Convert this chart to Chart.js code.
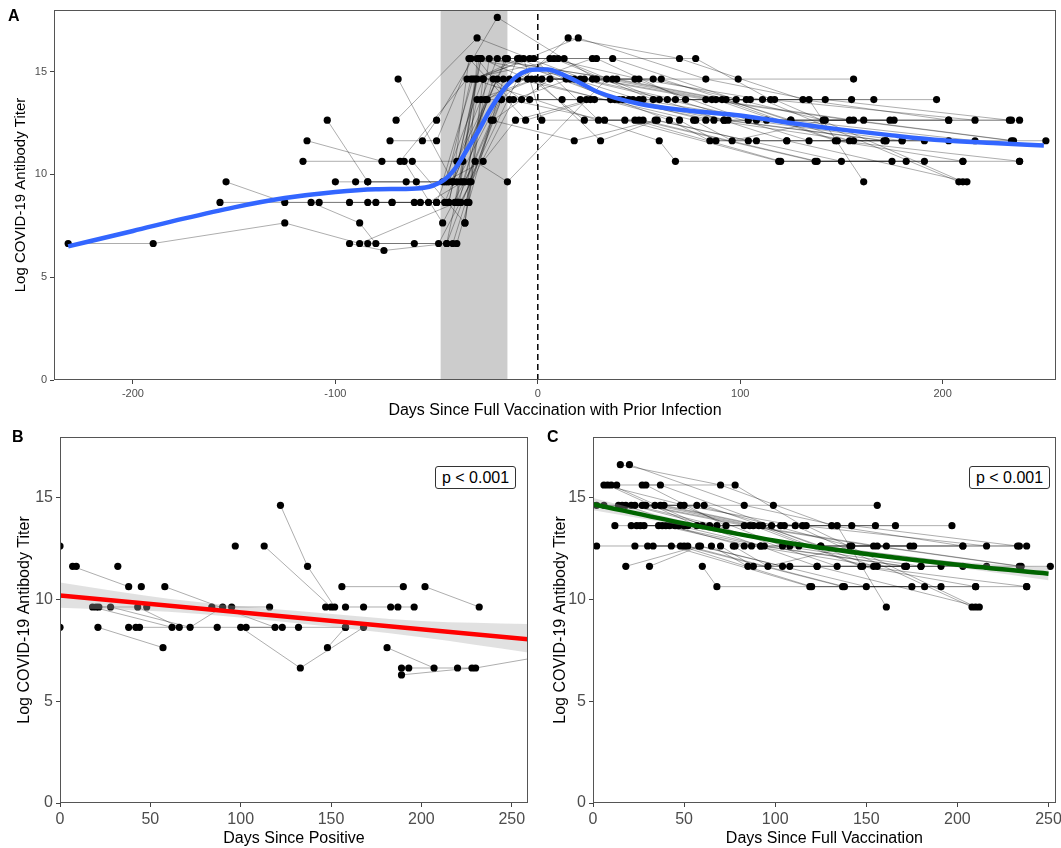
<!DOCTYPE html>
<html>
<head>
<meta charset="utf-8">
<script src="https://cdn.jsdelivr.net/npm/chart.js@4.4.1/dist/chart.umd.min.js"></script>
<style>
  body { margin: 0; background: #fff; width: 1061px; height: 848px; position: relative; overflow: hidden;
         font-family: "Liberation Sans", Arial, sans-serif; }
  canvas { position: absolute; }
  .tag { position: absolute; font-weight: bold; font-size: 16px; color: #000; }
  .pbox { position: absolute; border: 1px solid #333; border-radius: 3px; font-size: 16px; width: 79px;
          height: 21px; line-height: 21px; text-align: center; background: #fff; color: #000; }
</style>
</head>
<body>
<canvas id="chartA" width="1061" height="420" style="left:0;top:0"></canvas>
<canvas id="chartB" width="535" height="428" style="left:0;top:420px"></canvas>
<canvas id="chartC" width="530" height="428" style="left:535px;top:420px"></canvas>
<div class="tag" style="left:8px;top:7px">A</div>
<div class="tag" style="left:12px;top:428px">B</div>
<div class="tag" style="left:547px;top:428px">C</div>
<div class="pbox" style="left:435px;top:466px">p &lt; 0.001</div>
<div class="pbox" style="left:969px;top:466px">p &lt; 0.001</div>
<script>
// ticks
let titerTicks = [0, 5, 10, 15];
let daysTicksA = [-200, -100, 0, 100, 200];
let daysTicksBC = [0, 50, 100, 150, 200, 250];

// shaded window between doses (days before full vaccination)
let doseWindowA = [-48, -15];
let vaxDay = 0;

// per subject, before full vaccination (panel A only)
let preTracks = [
  [[-232,6.64],[-190,6.64],[-125,7.64],[-88,6.64],[-40,8.64],[-18,13.64]],
  [[-154,9.64],[-125,8.64],[-80,8.64],[-44,8.64],[-30,14.64]],
  [[-157,8.64],[-108,8.64],[-72,8.64],[-46,8.64],[-25,13.64]],
  [[-104,12.64],[-84,9.64],[-44,9.64],[-20,15.64]],
  [[-114,11.64],[-77,10.64],[-40,10.64],[-15,15.64]],
  [[-116,10.64],[-68,10.64],[-35,14.64]],
  [[-112,8.64],[-88,7.64],[-80,6.64],[-45,6.64],[-30,13.64]],
  [[-100,9.64],[-90,9.64],[-60,9.64],[-36,9.64],[-10,15.64]],
  [[-93,8.64],[-72,8.64],[-50,8.64],[-27,14.64]],
  [[-93,6.64],[-76,6.3],[-45,6.64],[-22,12.64]],
  [[-84,9.64],[-65,9.64],[-40,9.64],[-14,14.64]],
  [[-84,8.64],[-58,8.64],[-38,8.64],[-12,13.64]],
  [[-84,6.64],[-61,6.64],[-40,6.64],[-17,14.64]],
  [[-73,11.64],[-50,11.64],[-33,15.64]],
  [[-70,12.64],[-30,16.64],[-4,15.64]],
  [[-69,14.64],[-42,9.64],[-20,14.64]],
  [[-57,11.64],[-50,12.64],[-20,17.64]],
  [[-66,10.64],[-47,7.64],[-31,10.64],[-15,9.64]],
  [[-62,10.64],[-36,7.64],[-24,15.64]],
  [[-61,8.64],[-41,8.64],[-28,15.64]],
  [[-54,8.64],[-37,9.64],[-22,14.64],[-8,13.64]],
  [[-50,8.64],[-34,8.64],[-28,13.64],[-4,13.64]],
  [[-49,6.64],[-33,9.64],[-18,13.64]],
  [[-46,9.64],[-27,10.64],[-11,12.64]],
  [[-42,9.64],[-34,15.64],[-6,12.64]],
  [[-40,8.64],[-31,14.64],[-9,15.64]],
  [[-38,9.64],[-29,15.64],[-7,15.64]],
  [[-36,7.64],[-27,14.64],[-3,14.64]],
  [[-45,9.64],[-33,14.64],[-2,15.64]],
  [[-35,8.64],[-30,15.64],[-14,13.64]],
  [[-42,6.64],[-23,12.64]],
  [[-39,8.64],[-26,13.64],[-1,14.64]],
  [[-47,9.64],[-32,14.64]],
  [[-37,10.64],[-16,15.64]],
  [[-44,8.64],[-28,15.64],[-5,14.64]],
  [[-34,9.64],[-10,14.64]]
];

// same subjects, after full vaccination (panel C, and right half of panel A)
let postTracks = [
  [[15,16.64],[70,15.64],[131,13.64],[203,12.64]],
  [[20,16.64],[83,14.64],[134,13.64],[161,9.64]],
  [[6,15.64],[50,14.64],[111,13.64],[208,9.64]],
  [[8,15.64],[57,13.64],[117,13.64],[210,9.64]],
  [[10,15.64],[60,13.64],[123,11.64],[212,9.64]],
  [[13,15.64],[37,15.64],[98,13.64],[197,13.64]],
  [[27,15.64],[78,15.64],[115,13.64],[216,12.64]],
  [[29,15.64],[73,13.64],[142,13.64],[233,12.64]],
  [[2,14.64],[99,14.64],[156,14.64]],
  [[6,14.64],[48,14.64],[104,12.64],[180,11.64]],
  [[14,14.64],[61,14.64],[125,12.64],[234,12.64]],
  [[16,14.64],[57,14.64],[141,12.64],[238,12.64]],
  [[18,14.64],[50,13.64],[113,12.64],[174,12.64]],
  [[21,14.64],[64,13.64],[108,12.64],[176,12.64]],
  [[23,14.64],[68,13.64],[134,11.64],[203,11.64]],
  [[27,14.64],[83,13.64],[154,12.64],[234,11.64]],
  [[29,14.64],[86,13.64],[156,12.64],[235,11.64]],
  [[34,14.64],[88,13.64],[147,11.64],[210,10.64]],
  [[37,14.64],[91,13.64],[148,11.64],[238,10.64]],
  [[39,14.64],[93,13.64],[154,11.64],[251,11.64]],
  [[12,13.64],[45,13.64],[105,13.64],[155,13.64]],
  [[21,13.64],[52,13.64],[103,13.64],[166,13.64]],
  [[24,13.64],[40,13.64],[92,12.64],[171,11.64]],
  [[26,13.64],[47,13.64],[94,12.64],[172,11.64]],
  [[28,13.64],[38,13.64],[87,12.64],[156,11.64]],
  [[36,13.64],[42,13.64],[83,12.64],[161,12.64]],
  [[2,12.64],[43,12.64],[119,10.64],[191,10.64]],
  [[23,12.64],[48,12.64],[120,10.64],[182,10.64]],
  [[30,12.64],[50,12.64],[137,10.64],[210,10.64]],
  [[33,12.64],[52,12.64],[138,10.64],[175,10.64]],
  [[18,11.64],[58,12.64],[150,10.64]],
  [[31,11.64],[59,12.64],[104,11.64],[191,11.64]],
  [[60,11.64],[68,10.64],[238,10.64]],
  [[65,12.64],[85,11.64],[108,11.64],[172,11.64]],
  [[70,12.64],[88,11.64],[123,11.64],[180,11.64]],
  [[77,12.64],[96,11.64],[142,12.64],[203,12.64]],
  [[78,12.64],[92,12.64],[125,12.64],[216,11.64]]
];

// panel B subjects, days since positive
let tracksB = [
  [[0,12.64]],
  [[0,8.64]],
  [[7,11.64],[38,10.64]],
  [[9,11.64]],
  [[18,9.64],[62,8.64]],
  [[20,9.64],[43,9.64],[66,8.64]],
  [[21.5,9.64],[28,9.64],[72,8.64],[90,9.64]],
  [[21,8.64],[57,7.64]],
  [[32,11.64]],
  [[38,8.64],[42,8.64],[87,8.64],[132,8.64],[158,8.64]],
  [[44,8.64]],
  [[45,10.64]],
  [[48,9.64]],
  [[58,10.64],[119,8.64]],
  [[84,9.64],[95,9.64],[116,9.64]],
  [[97,12.64]],
  [[100,8.64],[133,6.64],[168,8.64]],
  [[103,8.64],[123,8.64]],
  [[113,12.64],[150,9.64]],
  [[122,14.64],[137,11.64],[152,9.64]],
  [[147,9.64]],
  [[148,7.64],[158,8.64]],
  [[156,10.64],[190,10.64]],
  [[158,9.64],[168,9.64],[183,9.64],[187,9.64],[196,9.64]],
  [[181,7.64],[207,6.64]],
  [[189,6.64],[220,6.64],[230,6.64],[295,7.64]],
  [[189,6.3],[228,6.64]],
  [[193,6.64]],
  [[202,10.64],[232,9.64]]
];

// smooth (loess) curve, panel A
let loessDaysA = [-232,-200,-175,-150,-125,-100,-80,-60,-52,-46,-40,-35,-30,-25,-20,-15,-10,-5,0,5,10,20,30,50,75,100,125,150,175,200,225,250];
let loessTiterA = [6.5,7.25,7.85,8.4,8.85,9.15,9.28,9.32,9.45,9.75,10.4,11.2,12.0,12.9,13.7,14.35,14.8,15.05,15.1,15.1,14.95,14.5,14.0,13.44,13.1,12.87,12.5,12.18,11.9,11.66,11.53,11.41];

// linear fit, panel B
let fitDaysB = [0, 259];
let fitTiterB = [10.2, 8.05];
let ciDaysB = [0, 60, 130, 200, 259];
let ciUpperB = [10.85, 10.05, 9.45, 8.95, 8.8];
let ciLowerB = [9.6, 9.4, 8.85, 8.15, 7.4];

// fitted curve, panel C
let fitDaysC = [0, 50, 100, 150, 200, 250];
let fitTiterC = [14.7, 13.75, 12.9, 12.25, 11.72, 11.28];
let ciUpperC = [15.0, 13.87, 12.98, 12.33, 11.86, 11.6];
let ciLowerC = [14.4, 13.63, 12.82, 12.17, 11.58, 10.95];

const FONT = '"Liberation Sans", Arial, sans-serif';
const tickGrey = '#4d4d4d';

function toXY(xs, ys) {
  return xs.map((x, i) => ({ x: x, y: ys[i] }));
}

function subjectSets(tracks) {
  return tracks.map(t => ({
    data: t.map(p => ({ x: p[0], y: p[1] })),
    borderColor: 'rgba(0,0,0,0.32)',
    borderWidth: 1,
    pointRadius: 3.6,
    pointBackgroundColor: '#000',
    pointBorderWidth: 0,
    fill: false,
    tension: 0,
    order: 3
  }));
}

function curveSet(xs, ys, color) {
  return {
    data: toXY(xs, ys),
    borderColor: color,
    borderWidth: 4.5,
    pointRadius: 0,
    fill: false,
    cubicInterpolationMode: 'monotone',
    order: 0
  };
}

function bandSets(xs, up, lo) {
  return [
    { data: toXY(xs, up), borderWidth: 0, pointRadius: 0, fill: '+1',
      backgroundColor: 'rgba(170,170,170,0.35)', cubicInterpolationMode: 'monotone', order: 1 },
    { data: toXY(xs, lo), borderWidth: 0, pointRadius: 0, fill: false,
      cubicInterpolationMode: 'monotone', order: 1 }
  ];
}

function makeScales(o) {
  return {
    x: {
      type: 'linear', min: o.xMin, max: o.xMax,
      afterBuildTicks: s => { s.ticks = o.xTicks.map(v => ({ value: v })); },
      afterFit: s => { s.height = o.xAxisH; },
      grid: { drawOnChartArea: false, drawTicks: true, tickLength: 4, color: '#444' },
      border: { display: false },
      ticks: { color: tickGrey, font: { family: FONT, size: o.tickSize }, padding: 3, maxRotation: 0, autoSkip: false },
      title: { display: true, text: o.xTitle, color: '#000', font: { family: FONT, size: 16 },
               padding: { top: 0, bottom: o.xTitlePad } }
    },
    y: {
      type: 'linear', min: 0, max: 18,
      afterBuildTicks: s => { s.ticks = titerTicks.map(v => ({ value: v })); },
      afterFit: s => { s.width = o.yAxisW; },
      grid: { drawOnChartArea: false, drawTicks: true, tickLength: 4, color: '#444' },
      border: { display: false },
      ticks: { color: tickGrey, font: { family: FONT, size: o.tickSize }, padding: 3 },
      title: { display: true, text: 'Log COVID-19 Antibody Titer', color: '#000',
               font: { family: FONT, size: o.yTitleSize }, padding: { top: o.yTitlePad, bottom: 0 } }
    }
  };
}

const framePlugin = {
  id: 'frame',
  afterDraw(chart) {
    const a = chart.chartArea, ctx = chart.ctx;
    ctx.save();
    ctx.strokeStyle = '#555';
    ctx.lineWidth = 1;
    ctx.strokeRect(Math.round(a.left) + 0.5, Math.round(a.top) + 0.5,
                   Math.round(a.right - a.left) - 1, Math.round(a.bottom - a.top) - 1);
    ctx.restore();
  }
};

const windowPlugin = {
  id: 'doseWindow',
  beforeDatasetsDraw(chart) {
    const x = chart.scales.x, a = chart.chartArea, ctx = chart.ctx;
    const x1 = x.getPixelForValue(doseWindowA[0]);
    const x2 = x.getPixelForValue(doseWindowA[1]);
    ctx.save();
    ctx.fillStyle = '#cccccc';
    ctx.fillRect(x1, a.top, x2 - x1, a.bottom - a.top);
    ctx.restore();
  }
};

const baseOptions = {
  responsive: false,
  animation: false,
  devicePixelRatio: 1,
  events: [],
  plugins: { legend: { display: false }, tooltip: { enabled: false } }
};

// panel A
let subjectsA = postTracks.map((post, i) => (preTracks[i] || []).concat(post));
let dashedLine = {
  data: [{ x: vaxDay, y: 0 }, { x: vaxDay, y: 18 }],
  borderColor: '#000', borderWidth: 1.5, borderDash: [6, 4],
  pointRadius: 0, fill: false, order: 4
};

new Chart(document.getElementById('chartA'), {
  type: 'line',
  data: { datasets: [curveSet(loessDaysA, loessTiterA, '#3366ff'), dashedLine].concat(subjectSets(subjectsA)) },
  options: Object.assign({}, baseOptions, {
    layout: { padding: { left: 0, top: 10, right: 5, bottom: 0 } },
    scales: makeScales({ xMin: -239, xMax: 256, xTicks: daysTicksA, xAxisH: 40, xTitlePad: 0,
                         xTitle: 'Days Since Full Vaccination with Prior Infection',
                         tickSize: 11, yAxisW: 54, yTitlePad: 12, yTitleSize: 15 })
  }),
  plugins: [windowPlugin, framePlugin]
});

// panel B
new Chart(document.getElementById('chartB'), {
  type: 'line',
  data: { datasets: [curveSet(fitDaysB, fitTiterB, '#ff0000')].concat(bandSets(ciDaysB, ciUpperB, ciLowerB), subjectSets(tracksB)) },
  options: Object.assign({}, baseOptions, {
    layout: { padding: { left: 0, top: 17, right: 7, bottom: 0 } },
    scales: makeScales({ xMin: 0, xMax: 259, xTicks: daysTicksBC, xAxisH: 45, xTitlePad: 0,
                         xTitle: 'Days Since Positive',
                         tickSize: 16, yAxisW: 60, yTitlePad: 15, yTitleSize: 16 })
  }),
  plugins: [framePlugin]
});

// panel C
new Chart(document.getElementById('chartC'), {
  type: 'line',
  data: { datasets: [curveSet(fitDaysC, fitTiterC, '#006400')].concat(bandSets(fitDaysC, ciUpperC, ciLowerC), subjectSets(postTracks)) },
  options: Object.assign({}, baseOptions, {
    layout: { padding: { left: 0, top: 17, right: 8, bottom: 0 } },
    scales: makeScales({ xMin: 0, xMax: 254, xTicks: daysTicksBC, xAxisH: 45, xTitlePad: 0,
                         xTitle: 'Days Since Full Vaccination',
                         tickSize: 16, yAxisW: 58, yTitlePad: 16, yTitleSize: 16 })
  }),
  plugins: [framePlugin]
});
</script>
</body>
</html>
